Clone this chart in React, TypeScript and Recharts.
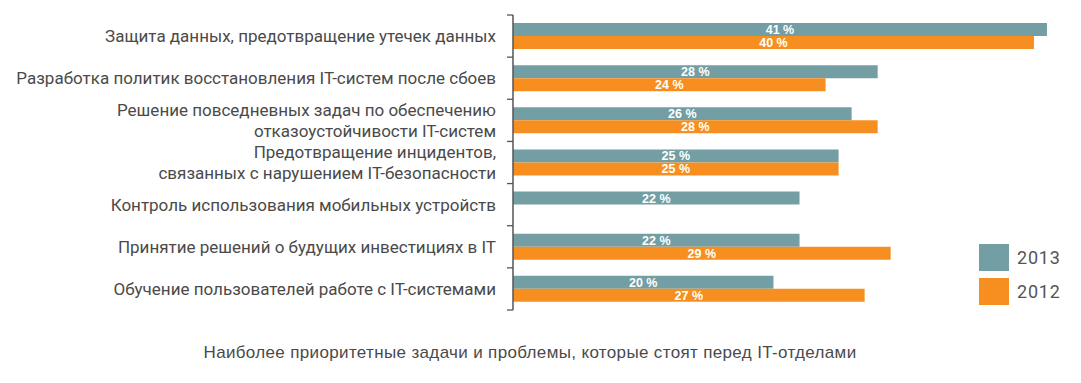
import { Bar, BarChart, LabelList, Legend, XAxis, YAxis } from "recharts";

const CATEGORIES = [
  "Защита данных, предотвращение утечек данных",
  "Разработка политик восстановления IT-систем после сбоев",
  "Решение повседневных задач по обеспечению\nотказоустойчивости IT-систем",
  "Предотвращение инцидентов,\nсвязанных с нарушением IT-безопасности",
  "Контроль использования мобильных устройств",
  "Принятие решений о будущих инвестициях в IT",
  "Обучение пользователей работе с IT-системами",
];
const VALUES_2013 = [41, 28, 26, 25, 22, 22, 20];
const VALUES_2012: (number | null)[] = [40, 24, 28, 25, null, 29, 27];
const CAPTION = "Наиболее приоритетные задачи и проблемы, которые стоят перед IT-отделами";

const W = 1081;
const H = 383;
const TOP = 15;
const BOTTOM = 73;
const AXIS_X = 513;
const BAND = (H - TOP - BOTTOM) / CATEGORIES.length;

const TEAL = "#729ea4";
const ORANGE = "#f68f20";
const TEXT = "#4a4a4a";
const FONT = "Roboto, 'Liberation Sans', sans-serif";
const SANS = "'Liberation Sans', Arial, sans-serif";

const data = CATEGORIES.map((name, i) => ({
  name,
  y2013: VALUES_2013[i],
  y2012: VALUES_2012[i],
}));

function CategoryTick(props: any) {
  const { x, y, payload, index } = props;
  const lines = String(payload.value).split("\n");
  const lh = 21;
  const start = y - ((lines.length - 1) * lh) / 2;
  return (
    <g>
      <line x1={AXIS_X - 6} x2={AXIS_X} y1={y - BAND / 2} y2={y - BAND / 2} stroke="#555" strokeWidth={1.3} />
      {index === CATEGORIES.length - 1 && (
        <line x1={AXIS_X - 6} x2={AXIS_X} y1={y + BAND / 2} y2={y + BAND / 2} stroke="#555" strokeWidth={1.3} />
      )}
      <text x={x - 9} y={start} textAnchor="end" dominantBaseline="central" fill={TEXT} fontSize={17} fontFamily={FONT}>
        {lines.map((l, i) => (
          <tspan key={i} x={x - 9} y={start + i * lh}>
            {l}
          </tspan>
        ))}
      </text>
    </g>
  );
}

function LegendBox() {
  const items = [
    { label: "2013", color: TEAL },
    { label: "2012", color: ORANGE },
  ];
  return (
    <div>
      {items.map((it) => (
        <div key={it.label} style={{ display: "flex", alignItems: "center", height: 34 }}>
          <div style={{ width: 30, height: 27, background: it.color, marginRight: 8 }} />
          <span style={{ fontFamily: FONT, fontSize: 18, letterSpacing: 0.8, color: "#555" }}>{it.label}</span>
        </div>
      ))}
    </div>
  );
}

const pct = (v: any) => (v == null ? "" : `${v} %`);

export default function App() {
  return (
    <div style={{ position: "relative", width: W, height: H, margin: -8, background: "#fff" }}>
      <BarChart
        width={W}
        height={H}
        data={data}
        layout="vertical"
        margin={{ top: TOP, right: 21, bottom: BOTTOM, left: 0 }}
        barCategoryGap={8}
        barGap={0}
      >
        <XAxis type="number" domain={[0, 42]} hide />
        <YAxis
          type="category"
          dataKey="name"
          width={AXIS_X}
          interval={0}
          tickLine={false}
          axisLine={{ stroke: "#555", strokeWidth: 1.5 }}
          tick={<CategoryTick />}
        />
        <Legend
          layout="horizontal"
          verticalAlign="middle"
          align="center"
          content={<LegendBox />}
          wrapperStyle={{ left: 979, top: 240, width: 100 }}
        />
        <Bar dataKey="y2013" name="2013" fill={TEAL} isAnimationActive={false}>
          <LabelList dataKey="y2013" position="center" formatter={pct} fill="#fff" fontSize={12.5} fontWeight="bold" fontFamily={SANS} />
        </Bar>
        <Bar dataKey="y2012" name="2012" fill={ORANGE} isAnimationActive={false}>
          <LabelList dataKey="y2012" position="center" formatter={pct} fill="#fff" fontSize={12.5} fontWeight="bold" fontFamily={SANS} />
        </Bar>
      </BarChart>
      <div
        style={{
          position: "absolute",
          left: 0,
          width: 1060,
          top: 343,
          textAlign: "center",
          fontFamily: SANS,
          fontSize: 17,
          letterSpacing: 0.35,
          color: TEXT,
        }}
      >
        {CAPTION}
      </div>
    </div>
  );
}
